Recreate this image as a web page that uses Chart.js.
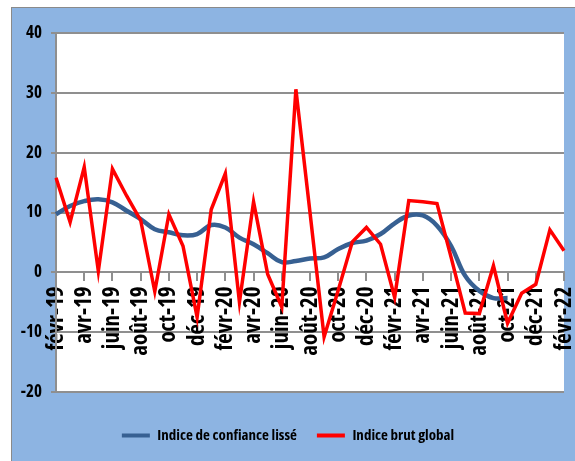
<!DOCTYPE html>
<html>
<head>
<meta charset="utf-8">
<script src="https://cdn.jsdelivr.net/npm/chart.js@4/dist/chart.umd.min.js"></script>
<style>
  html, body { margin: 0; padding: 0; background: #ffffff; width: 575px; height: 461px; overflow: hidden; }
  #frame { position: absolute; left: 11px; top: 7px; width: 600px; height: 500px;
           background: #8DB4E2; border-left: 1px solid #8a8a8a; border-top: 1px solid #8a8a8a; }
  #wrap { position: absolute; left: 12px; top: 8px; width: 563px; height: 453px; }
</style>
</head>
<body>
<div id="frame"></div>
<div id="wrap"><canvas id="c" width="563" height="453"></canvas></div>
<script>
const months = ['févr-19','mars-19','avr-19','mai-19','juin-19','juil-19','août-19','sept-19','oct-19','nov-19','déc-19','janv-20',
                'févr-20','mars-20','avr-20','mai-20','juin-20','juil-20','août-20','sept-20','oct-20','nov-20','déc-20','janv-21',
                'févr-21','mars-21','avr-21','mai-21','juin-21','juil-21','août-21','sept-21','oct-21','nov-21','déc-21','janv-22','févr-22'];

const indiceLisse = [9.7, 11.1, 11.9, 12.2, 11.7, 10.3, 8.9, 7.2, 6.7, 6.2, 6.4, 7.9,
                     7.5, 5.8, 4.7, 3.2, 1.7, 1.9, 2.3, 2.5, 3.9, 4.9, 5.3, 6.4,
                     8.2, 9.5, 9.5, 7.8, 4.4, -0.6, -3.1, -4.3, -4.3, null, null, null, null];

const indiceBrut = [15.8, 8.4, 17.6, 0.2, 17.3, 12.8, 8.7, -3.2, 9.7, 4.4, -7.5, 10.5,
                    16.5, -5.0, 11.8, -0.3, -5.8, 30.6, 10.0, -10.8, -3.0, 5.1, 7.5, 4.7,
                    -4.2, 12.0, 11.8, 11.5, 2.5, -6.8, -6.9, 1.1, -8.5, -3.5, -2.0, 7.1, 3.6];

const seriesNames = ['Indice de confiance lissé', 'Indice brut global'];
const yTicks = [-20, -10, 0, 10, 20, 30, 40];

const GRID = '#8f8f8f';

// pick the narrowest bold face available (reference uses a condensed bold face)
const mctx = document.createElement('canvas').getContext('2d');
const candidates = [
  { weight: 'bold', family: "'Liberation Sans Narrow'" },
  { weight: 'bold', family: "'DejaVu Sans Condensed'" },
  { weight: 'bold condensed', family: "'DejaVu Sans'" },
  { weight: 'bold condensed', family: "'Open Sans'" },
  { weight: 'bold condensed', family: "'Noto Sans'" },
  { weight: 'bold', family: "'Liberation Sans'" }
];
function measure(cd, size, text) {
  mctx.font = cd.weight + ' ' + size + 'px ' + cd.family + ', monospace';
  return mctx.measureText(text);
}
let best = candidates[candidates.length - 1], bestRatio = Infinity;
for (const cd of candidates) {
  const w = measure(cd, 40, seriesNames[0]).width;
  const h = measure(cd, 40, 'I').actualBoundingBoxAscent || 29;
  const r = w / h;
  if (r < bestRatio - 0.01) { bestRatio = r; best = cd; }
}
const FONT = best.family + ", 'Liberation Sans', Arial, sans-serif";
const WEIGHT = best.weight;
const capRatio = (measure(best, 40, 'I').actualBoundingBoxAscent || 29) / 40;
function sizeFor(text, targetW, maxCap) {
  const w40 = measure(best, 40, text).width;
  let s = 40 * targetW / w40;
  s = Math.min(s, maxCap / capRatio);
  return Math.round(s * 2) / 2;
}
const legendSize = sizeFor(seriesNames[0], 138, 13);
const xSize = sizeFor('févr-19', 69, 16);
const ySize = sizeFor('40', 16, 12);

const whiteArea = {
  id: 'whiteArea',
  beforeDraw(chart) {
    const {ctx, chartArea: a} = chart;
    ctx.save();
    ctx.fillStyle = '#ffffff';
    ctx.fillRect(a.left, a.top, a.right - a.left, a.bottom - a.top);
    ctx.restore();
  }
};

new Chart(document.getElementById('c'), {
  type: 'line',
  data: {
    labels: months,
    datasets: [
      { label: seriesNames[0], data: indiceLisse, borderColor: '#376092', backgroundColor: '#376092',
        borderWidth: 4.5, tension: 0.4, pointRadius: 0, spanGaps: false, order: 1 },
      { label: seriesNames[1], data: indiceBrut, borderColor: '#ff0000', backgroundColor: '#ff0000',
        borderWidth: 3.5, tension: 0, pointRadius: 0, order: 0 }
    ]
  },
  options: {
    responsive: false,
    animation: false,
    layout: { padding: { left: 0, top: 25, right: 11, bottom: 8 } },
    plugins: {
      tooltip: { enabled: false },
      legend: {
        position: 'bottom',
        title: { display: true, text: ' ', font: { size: 10 }, padding: { top: 4, bottom: 0 } },
        labels: {
          boxWidth: 28, boxHeight: 4, padding: 20, color: '#000000',
          font: { family: FONT, size: legendSize, weight: WEIGHT },
          generateLabels(chart) {
            return chart.data.datasets.map((ds, i) => ({
              text: ds.label, fillStyle: ds.borderColor, strokeStyle: ds.borderColor,
              lineWidth: 0, hidden: false, datasetIndex: i, fontColor: '#000000'
            }));
          }
        }
      }
    },
    scales: {
      x: {
        position: { y: 0 },
        afterBuildTicks(scale) { scale.ticks = scale.ticks.filter(t => t.value % 2 === 0); },
        afterFit(scale) { scale.paddingLeft = 0; scale.paddingRight = 0; },
        grid: { drawOnChartArea: false, drawTicks: true, tickLength: 8, color: GRID, lineWidth: 2 },
        border: { display: true, color: GRID, width: 2 },
        ticks: { autoSkip: false, minRotation: 90, maxRotation: 90, padding: 6, color: '#000000',
                 font: { family: FONT, size: xSize, weight: WEIGHT } }
      },
      y: {
        min: yTicks[0], max: yTicks[yTicks.length - 1],
        afterFit(scale) { scale.width = 44; },
        afterBuildTicks(scale) { scale.ticks = yTicks.map(v => ({ value: v })); },
        grid: { color: GRID, lineWidth: 2, tickLength: 5, drawTicks: true },
        border: { display: true, color: GRID, width: 2 },
        ticks: { padding: 9, color: '#000000', font: { family: FONT, size: ySize, weight: WEIGHT } }
      }
    }
  },
  plugins: [whiteArea]
});
</script>
</body>
</html>
